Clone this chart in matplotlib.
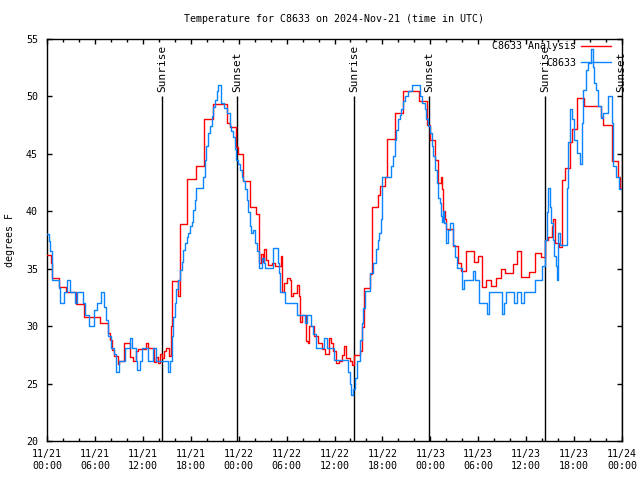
import matplotlib
matplotlib.use('Agg')
import matplotlib.pyplot as plt

# ---------------- data (hours since 11/21 00:00 UTC, degrees F) ----------------
title = "Temperature for C8633 on 2024-Nov-21 (time in UTC)"
ylabel = "degrees F"
series_names = ["C8633 Analysis", "C8633"]

red_t = [0.0, 0.5, 0.62, 1.55, 2.4, 3.6, 4.6, 6.6, 7.65, 7.9, 8.2, 8.45, 8.9, 9.05, 9.7,
         10.45, 10.75, 11.15, 11.4, 12.35, 12.6, 13.4, 13.7, 13.95, 14.2, 14.45, 14.7, 14.95,
         15.3, 15.5, 15.65, 16.45, 16.65, 17.55, 18.65, 19.7, 20.75, 22.6, 22.9, 23.65, 23.95,
         24.6, 25.4, 26.2, 26.6, 26.8, 27.0, 27.2, 27.4, 27.7, 28.2, 28.55, 29.3, 29.45, 29.7,
         30.0, 30.4, 30.55, 30.75, 31.3, 31.55, 31.7, 31.95, 32.45, 32.65, 32.85, 33.45, 33.9,
         34.45, 34.8, 35.25, 35.55, 35.8, 36.2, 36.6, 36.9, 37.2, 37.45, 37.9, 38.2, 38.5,
         39.25, 39.5, 39.7, 40.5, 40.74, 41.5, 41.7, 42.35, 42.6, 43.6, 44.6, 46.6, 47.6,
         47.9, 48.6, 49.0, 49.3, 49.45, 49.6, 49.8, 50.0, 50.9, 51.5, 51.9, 52.5, 53.5, 54.0,
         54.5, 55.0, 55.6, 56.2, 56.9, 57.3, 58.3, 58.8, 59.3, 60.4, 61.1, 61.8, 62.3, 62.7,
         63.2, 63.4, 63.6, 64.1, 64.5, 64.9, 65.5, 65.7, 66.4, 67.3, 69.4, 69.6, 70.7, 71.5,
         71.8, 72.0]
red_v = [36.2, 35.5, 34.2, 33.4, 33.0, 31.9, 30.8, 30.3, 29.4, 28.8, 27.9, 27.4, 26.7, 27.0, 28.5,
         27.3, 27.0, 27.8, 28.0, 28.5, 28.1, 26.9, 27.3, 26.8, 27.6, 27.2, 27.8, 28.1,
         27.4, 30.0, 33.9, 32.6, 38.9, 42.8, 43.9, 48.0, 49.3, 47.7, 47.3, 45.6, 45.0,
         42.6, 40.4, 39.8, 35.5, 36.3, 35.6, 36.7, 35.8, 35.3, 35.5, 35.2, 36.1, 33.0, 33.75,
         34.2, 34.0, 32.6, 32.9, 33.6, 32.6, 30.4, 31.0, 28.7, 28.5, 30.0, 29.1, 28.5,
         28.0, 27.6, 29.0, 28.5, 27.8, 26.8, 27.0, 27.5, 28.3, 27.2, 27.0, 26.6, 27.5,
         27.8, 29.9, 33.3, 34.5, 40.4, 41.4, 42.2, 43.0, 46.3, 48.6, 50.5, 49.6, 47.5,
         46.2, 44.5, 42.5, 43.0, 41.9, 40.0, 39.3, 38.5, 37.0, 35.5, 34.8, 36.5, 35.6, 36.1,
         33.4, 34.0, 33.5, 34.2, 35.0, 34.6, 35.4, 36.5, 34.3, 34.7, 36.4, 36.0, 37.5, 37.8,
         38.7, 39.3, 37.2, 36.9, 42.75, 43.8, 46.0, 47.2, 49.9, 49.15, 48.2, 47.5, 44.35, 43.0,
         42.0, 42.0]

blue_t = [0.0, 0.2, 0.4, 0.6, 1.5, 1.6, 2.1, 2.5, 2.85, 3.5, 3.75, 4.5, 4.8, 5.2, 5.3, 5.9,
          6.2, 6.8, 7.15, 7.35, 7.6, 8.0, 8.4, 8.65, 9.05, 9.75, 10.4, 10.65, 11.1, 11.3, 11.6,
          11.9, 12.65, 13.3, 13.6, 15.2, 15.35, 15.6, 15.8, 16.0, 16.2, 16.4, 16.65, 16.85,
          17.05, 17.3, 17.5, 17.7, 17.9, 18.1, 18.3, 18.5, 18.7, 19.55, 19.75, 19.95, 20.2,
          20.4, 20.6, 20.8, 21.0, 21.25, 21.45, 21.8, 22.2, 22.6, 22.9, 23.1, 23.3, 23.5, 23.7,
          23.95, 24.2, 24.4, 24.6, 24.8, 25.0, 25.2, 25.4, 25.6, 25.8, 26.05, 26.25, 26.6,
          26.9, 27.15, 27.35, 28.25, 28.9, 29.0, 29.2, 29.8, 31.3, 32.35, 32.6, 33.05, 33.3,
          33.7, 34.65, 35.0, 35.9, 37.75, 37.9, 38.1, 38.35, 38.55, 38.8, 39.15, 39.4, 39.6,
          39.8, 40.5, 40.85, 41.2, 41.4, 41.6, 41.8, 41.9, 42.0, 43.1, 43.35, 43.55, 43.75,
          43.95, 44.15, 44.35, 44.6, 44.8, 45.2, 45.65, 46.7, 46.9, 47.3, 47.5, 47.7, 47.95,
          48.15, 48.35, 48.6, 48.8, 49.0, 49.2, 49.3, 49.45, 49.6, 49.75, 49.95, 50.2, 50.45,
          50.9, 51.1, 51.3, 52.0, 52.25, 53.3, 53.55, 54.05, 55.05, 55.35, 56.95, 57.25, 57.45,
          58.45, 58.85, 59.35, 59.7, 61.15, 62.0, 62.4, 62.55, 62.7, 63.0, 63.15, 63.3, 63.5,
          63.7, 63.85, 64.0, 64.2, 65.15, 65.3, 65.5, 65.8, 66.05, 66.35, 66.7, 66.95, 67.15,
          67.45, 67.8, 68.15, 68.35, 68.55, 68.8, 69.05, 69.35, 69.6, 70.2, 70.7, 70.9, 71.25,
          71.6, 72.0]
blue_v = [38.0, 37.4, 36.5, 34.0, 33.3, 32.0, 33.0, 34.0, 33.0, 32.0, 33.0, 32.0, 31.0, 30.5, 30.0, 31.4,
          32.0, 33.0, 31.7, 30.5, 29.1, 28.1, 27.6, 26.0, 27.0, 28.1, 29.0, 28.1, 27.0, 26.2, 27.0,
          28.1, 27.0, 28.1, 27.0, 26.0, 27.0, 29.1, 30.8, 32.0, 33.2, 34.0, 34.9, 35.6,
          36.6, 37.2, 37.8, 38.1, 38.7, 39.1, 40.1, 41.0, 42.0, 43.0, 44.5, 45.7, 46.8,
          47.4, 48.3, 49.1, 49.7, 50.5, 51.0, 49.4, 49.0, 48.6, 47.4, 47.0, 46.5, 45.4, 44.5,
          44.1, 43.6, 43.0, 42.6, 41.9, 41.0, 39.9, 38.7, 38.1, 38.4, 37.2, 36.5, 35.1,
          35.9, 35.5, 35.1, 36.8, 35.5, 34.6, 33.0, 32.0, 31.0, 30.3, 31.0, 30.0, 29.3,
          28.1, 29.0, 28.1, 27.06, 26.0, 25.0, 24.0, 24.5, 25.5, 27.0, 28.8, 30.3, 31.6,
          33.1, 34.6, 35.5, 36.7, 37.5, 38.1, 39.3, 42.2, 43.0, 43.9, 44.8, 46.2, 47.1,
          48.0, 48.4, 48.9, 49.6, 50.0, 50.45, 51.0, 50.0, 49.4, 48.9, 48.0, 47.4, 46.8,
          45.7, 44.8, 43.6, 42.5, 41.2, 40.7, 39.6, 39.1, 40.0, 39.0, 37.2, 38.4, 39.0,
          37.1, 36.0, 35.1, 33.2, 34.0, 34.8, 34.0, 32.0, 31.1, 33.0, 31.1, 32.0, 33.0,
          32.0, 33.0, 32.0, 33.0, 34.0, 35.2, 37.5, 39.9, 42.0, 40.4, 39.0, 37.5, 36.1,
          35.2, 34.0, 38.1, 37.1, 42.0, 46.0, 48.9, 48.0, 46.2, 45.1, 44.1, 47.7, 50.6,
          52.3, 52.9, 54.1, 52.6, 51.2, 50.6, 49.2, 48.1, 48.6, 50.0, 47.7, 43.9, 43.0,
          41.9, 42.0]

sunrise_t = [14.44, 38.47, 62.40]
sunset_t = [23.83, 47.85, 71.95]

xtick_labels = ["11/21\n00:00", "11/21\n06:00", "11/21\n12:00", "11/21\n18:00",
                "11/22\n00:00", "11/22\n06:00", "11/22\n12:00", "11/22\n18:00",
                "11/23\n00:00", "11/23\n06:00", "11/23\n12:00", "11/23\n18:00",
                "11/24\n00:00"]
yticks = [20, 25, 30, 35, 40, 45, 50, 55]

# ---------------- figure ----------------
FONT = 'DejaVu Sans Mono'
FS = 7.2
plt.rcParams['font.family'] = FONT
plt.rcParams['font.size'] = FS

fig = plt.figure(figsize=(6.4, 4.8), dpi=100)
ax = fig.add_axes([47/640, 39/480, 575/640, 402/480])

ax.step(red_t, red_v, where='post', color='#ff0000', lw=1.0, label=series_names[0], zorder=3)
ax.step(blue_t, blue_v, where='post', color='#0a84ff', lw=1.0, label=series_names[1], zorder=4)

for t in sunrise_t:
    ax.vlines(t, 20, 50, color='black', lw=1.0, zorder=2)
    ax.text(t, 50.4, 'Sunrise', rotation=90, ha='center', va='bottom', fontsize=8.0, clip_on=False)
for t in sunset_t:
    ax.vlines(t, 20, 50, color='black', lw=1.0, zorder=2)
    ax.text(t, 50.4, 'Sunset', rotation=90, ha='center', va='bottom', fontsize=8.0, clip_on=False)

ax.set_xlim(0, 72)
ax.set_ylim(20, 55)
ax.set_xticks(range(0, 73, 6))
ax.set_xticks(range(0, 73, 2), minor=True)
ax.set_xticklabels(xtick_labels)
ax.set_yticks(yticks)
ax.tick_params(which='both', direction='in', top=True, right=True, width=1.0)
ax.tick_params(which='major', length=3.8)
ax.tick_params(which='minor', length=2.2)
ax.tick_params(axis='y', pad=6.5)
ax.tick_params(axis='x', pad=6)
for s in ax.spines.values():
    s.set_linewidth(1.0)

fig.text(334/640, (480-19)/480, title, ha='center', va='center', fontsize=FS)
fig.text(10/640, 240/480, ylabel, rotation=90, ha='center', va='center', fontsize=FS)

leg = ax.legend(loc='upper right', bbox_to_anchor=(611/640, (480-41)/480),
                bbox_transform=fig.transFigure, frameon=False, markerfirst=False,
                handlelength=3.0, handletextpad=0.5, borderpad=0, borderaxespad=0,
                labelspacing=0.65, fontsize=FS)
leg.set_zorder(5)

fig.savefig('out.png', dpi=100)
